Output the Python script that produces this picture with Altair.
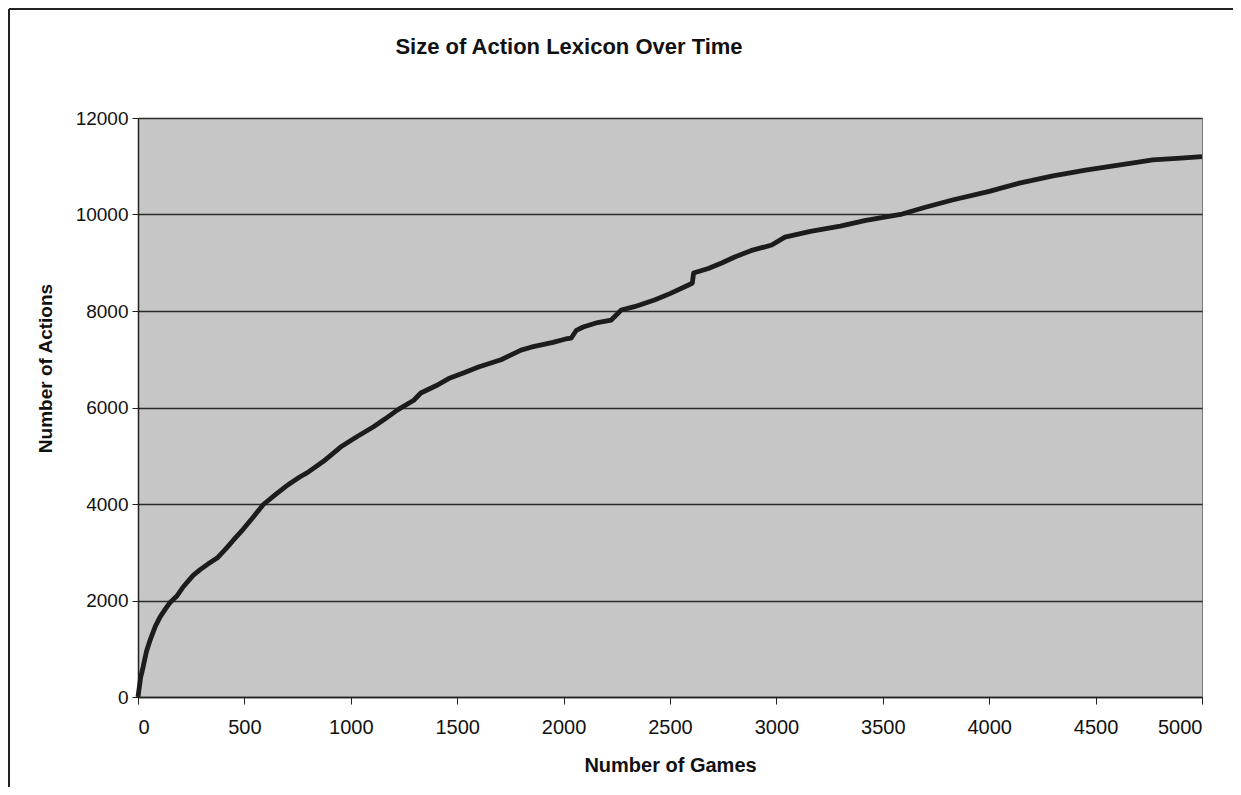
import altair as alt
import pandas as pd

games = [0, 12, 24, 40, 57, 80, 104, 130, 151, 184, 212, 259, 292, 330, 372, 419, 450, 495,
         540, 589, 650, 700, 716, 760, 796, 870, 952, 1030, 1107, 1160, 1220, 1296, 1329,
         1400, 1460, 1532, 1600, 1706, 1800, 1847, 1950, 2010, 2036, 2060, 2092, 2160, 2224,
         2271, 2333, 2427, 2500, 2587, 2605, 2611, 2680, 2743, 2804, 2880, 2978, 3040, 3160,
         3300, 3420, 3591, 3700, 3827, 4000, 4142, 4300, 4453, 4600, 4769, 4900, 5000]
actions = [0, 400, 620, 950, 1180, 1450, 1660, 1830, 1960, 2100, 2280, 2520, 2640, 2760, 2880,
           3100, 3260, 3480, 3720, 3990, 4210, 4380, 4430, 4560, 4650, 4880, 5180, 5400, 5600,
           5760, 5950, 6150, 6300, 6450, 6600, 6720, 6840, 6990, 7190, 7250, 7350, 7420, 7440,
           7600, 7668, 7760, 7813, 8021, 8090, 8228, 8360, 8539, 8580, 8788, 8880, 8995, 9120,
           9250, 9368, 9530, 9650, 9760, 9880, 10010, 10150, 10300, 10480, 10650, 10800, 10920,
           11020, 11130, 11170, 11200]

title_text = "Size of Action Lexicon Over Time"
x_title = "Number of Games"
y_title = "Number of Actions"
x_ticks = [0, 500, 1000, 1500, 2000, 2500, 3000, 3500, 4000, 4500, 5000]
y_ticks = [0, 2000, 4000, 6000, 8000, 10000, 12000]

df = pd.DataFrame({"games": games, "actions": actions})

FONT = "Liberation Sans"

line = alt.Chart(df).mark_line(color="#1c1c1c", strokeWidth=4.8, strokeJoin="round").encode(
    x=alt.X("games:Q",
            scale=alt.Scale(domain=[0, 5000], nice=False, zero=True),
            axis=alt.Axis(values=x_ticks, title=x_title, grid=False, tickSize=7,
                          labelPadding=13, labelFontSize=20, labelFont=FONT,
                          labelColor="#111", titleFont=FONT, titleFontSize=20,
                          titleFontWeight="bold", titleColor="#111",
                          titleY=68, titleBaseline="middle", format="d",
                          domainColor="#222", tickColor="#222", domainWidth=1.5)),
    y=alt.Y("actions:Q",
            scale=alt.Scale(domain=[0, 12000], nice=False),
            axis=alt.Axis(values=y_ticks, title=y_title, grid=True, gridColor="#2a2a2a",
                          gridWidth=1.3, tickSize=6, labelPadding=4, labelFontSize=19,
                          labelFont=FONT, labelColor="#111", titleFont=FONT,
                          titleFontSize=19, titleFontWeight="bold", titleColor="#111",
                          titleAngle=270, titleX=-93, titleY=250, titleAlign="center",
                          titleBaseline="middle", format="d",
                          domainColor="#222", tickColor="#222", domainWidth=1.5)),
)

title_df = pd.DataFrame({"t": [title_text]})
title = alt.Chart(title_df).mark_text(
    font=FONT, fontSize=22, fontWeight="bold", color="#111", align="center", baseline="middle"
).encode(text="t:N", x=alt.value(431), y=alt.value(-71))

frame_left = alt.Chart(title_df).mark_rule(color="#222", strokeWidth=2).encode(
    x=alt.value(-129), y=alt.value(-109), y2=alt.value(669))
frame_top = alt.Chart(title_df).mark_rule(color="#222", strokeWidth=2).encode(
    x=alt.value(-129), x2=alt.value(1095), y=alt.value(-109))

chart = alt.layer(line, title, frame_left, frame_top).properties(
    width=1064, height=579,
    autosize=alt.AutoSizeParams(type="none"),
    padding={"left": 130, "top": 110, "right": 31, "bottom": 90},
    background="white",
).configure_view(fill="#c6c6c6", stroke="#7a7a7a", strokeWidth=1)

chart.save("out.html", embed_options={"renderer": "svg", "actions": False})
